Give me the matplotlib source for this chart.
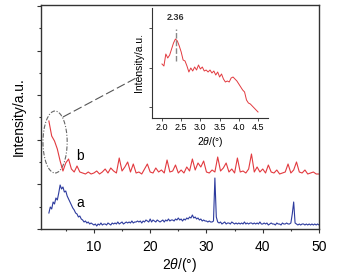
import numpy as np
import matplotlib
matplotlib.use('Agg')
import matplotlib.pyplot as plt
from matplotlib.patches import Ellipse

plt.rcParams['font.family'] = ['Liberation Sans', 'DejaVu Sans']
plt.rcParams['mathtext.fontset'] = 'custom'
plt.rcParams['mathtext.it'] = 'Liberation Sans:italic'
plt.rcParams['mathtext.rm'] = 'Liberation Sans'

# curve b (red), 2.0 .. 50.0 step 0.5
b_start, b_step = 2.0, 0.5
b_vals = [108, 93, 88, 80, 68, 58, 66, 70, 60, 57,
          63, 57, 56, 55, 57, 55, 56, 58, 55, 57,
          60, 56, 61, 58, 56, 71, 58, 62, 67, 57,
          65, 56, 57, 55, 60, 65, 57, 56, 61, 57,
          59, 56, 69, 57, 58, 64, 56, 59, 56, 62,
          58, 70, 59, 66, 62, 68, 57, 56, 59, 57,
          72, 58, 61, 66, 57, 60, 56, 71, 57, 58,
          56, 60, 75, 57, 62, 57, 60, 56, 64, 57,
          56, 59, 55, 56, 57, 65, 56, 59, 67, 57,
          56, 59, 55, 56, 57, 55, 55]

# curve a (blue), 2.0 .. 50.0 step 0.25
a_start, a_step = 2.0, 0.25
a_vals = [16, 22, 20, 27, 25, 31, 29, 36,
          44, 40, 42, 37, 38, 33, 30, 27,
          24, 21, 19, 16, 15, 12, 13, 10,
          9, 7, 8, 6, 7, 5, 6, 5,
          4, 5, 3, 5, 4, 6, 4, 5,
          5, 4, 6, 5, 4, 6, 5, 6,
          5, 7, 5, 6, 7, 5, 6, 7,
          6, 7, 6, 8, 6, 7, 7, 8,
          7, 8, 6, 8, 7, 9, 8, 7,
          10, 7, 9, 8, 7, 9, 8, 7,
          8, 9, 7, 9, 8, 10, 8, 9,
          9, 8, 10, 9, 11, 9, 10, 8,
          10, 9, 11, 10, 12, 11, 14, 11,
          12, 10, 11, 9, 10, 8, 9, 8,
          8, 7, 8, 7, 7, 8, 51, 12,
          7, 6, 7, 5, 6, 7, 5, 6,
          6, 5, 7, 6, 5, 6, 5, 6,
          5, 6, 5, 7, 5, 6, 5, 6,
          6, 5, 6, 5, 6, 5, 7, 5,
          5, 6, 5, 6, 4, 5, 6, 5,
          5, 4, 6, 5, 5, 4, 6, 5,
          5, 6, 5, 5, 6, 15, 27, 6,
          5, 4, 5, 4, 5, 5, 4, 5,
          4, 5, 4, 5, 4, 5, 4, 5,
          4]

# inset: curve b between 2.0 and 4.5, step 0.05
ins_start, ins_step = 2.0, 0.05
ins_vals = [54, 52, 64, 60, 63, 69, 75, 79, 77, 72,
            66, 58, 57, 52, 46, 50, 47, 51, 48, 53,
            49, 51, 47, 48, 46, 48, 45, 47, 43, 46,
            41, 44, 39, 36, 37, 36, 40, 41, 39, 37,
            34, 31, 28, 26, 18, 15, 14, 12, 10, 8,
            6]
peak_pos = 2.36

x_ticks = [10, 20, 30, 40, 50]
inset_ticks = [2.0, 2.5, 3.0, 3.5, 4.0, 4.5]

red = '#e23a3f'
blue = '#2d3b9e'
spine_c = '#333333'

x_b = b_start + b_step * np.arange(len(b_vals))
x_a = a_start + a_step * np.arange(len(a_vals))
x_i = ins_start + ins_step * np.arange(len(ins_vals))

fig = plt.figure(figsize=(3.43, 2.78), dpi=100)
ax = fig.add_axes([41 / 343, 1 - 229 / 278, 278 / 343, 224.5 / 278])

ax.plot(x_b, b_vals, color=red, lw=0.8)
ax.plot(x_a, a_vals, color=blue, lw=0.8)
ax.text(7.5, 73, 'b', fontsize=10, ha='center', va='center')
ax.text(7.5, 26, 'a', fontsize=10, ha='center', va='center')

ax.add_patch(Ellipse((3.1, 87), 4.3, 62, fill=False, ec='#666666',
                     ls=(0, (4, 1.5, 1, 1.5)), lw=0.8))
ax.plot([4.5, 18.5], [112, 154], color='#555555', lw=0.8,
        ls=(0, (8, 3)))

ax.set_xlim(0.6, 50)
ax.set_ylim(0, 224.5)
ax.set_xticks(x_ticks)
ax.set_xticks(np.arange(5, 50, 10), minor=True)
ax.set_yticks(np.arange(0, 224, 44.6))
ax.set_yticks(np.arange(22.3, 224, 44.6), minor=True)
ax.set_yticklabels([])
ax.tick_params(axis='both', which='major', direction='out', length=3,
               width=0.8, labelsize=10, color=spine_c, pad=5)
ax.tick_params(axis='both', which='minor', direction='out', length=1.5,
               width=0.8, color=spine_c)
for s in ax.spines.values():
    s.set_color(spine_c)
    s.set_linewidth(1.0)
ax.set_xlabel(r'2$\it{\theta}$/(°)', fontsize=10, labelpad=1)
ax.set_ylabel('Intensity/a.u.', fontsize=10, labelpad=3)

# inset
ins = fig.add_axes([152 / 343, 1 - 118 / 278, 116 / 343, 110 / 278])
ins.plot(x_i, ins_vals, color=red, lw=0.7)
ins.plot([peak_pos, peak_pos], [57, 89], color='#888888', lw=1.0,
         ls=(0, (4, 1.5)))
ins.text(peak_pos, 101, '%.2f' % peak_pos, fontsize=6.5, fontweight='bold',
         ha='center', va='center', color='#333333')
ins.set_xlim(1.74, 4.76)
ins.set_ylim(0, 110)
ins.set_xticks(inset_ticks)
ins.set_xticklabels(['%.1f' % t for t in inset_ticks])
ins.set_yticks([11, 50.5, 90])
ins.set_yticklabels([])
ins.tick_params(axis='both', direction='out', length=2, width=0.6,
                labelsize=6.5, color=spine_c, pad=1.5)
ins.spines['top'].set_visible(False)
ins.spines['right'].set_visible(False)
for s in ['left', 'bottom']:
    ins.spines[s].set_color(spine_c)
    ins.spines[s].set_linewidth(0.8)
ins.set_xlabel(r'2$\it{\theta}$/(°)', fontsize=7.5, labelpad=2)
ins.set_ylabel('Intensity/a.u.', fontsize=7.5, labelpad=2)

fig.savefig('out.png', dpi=100)
